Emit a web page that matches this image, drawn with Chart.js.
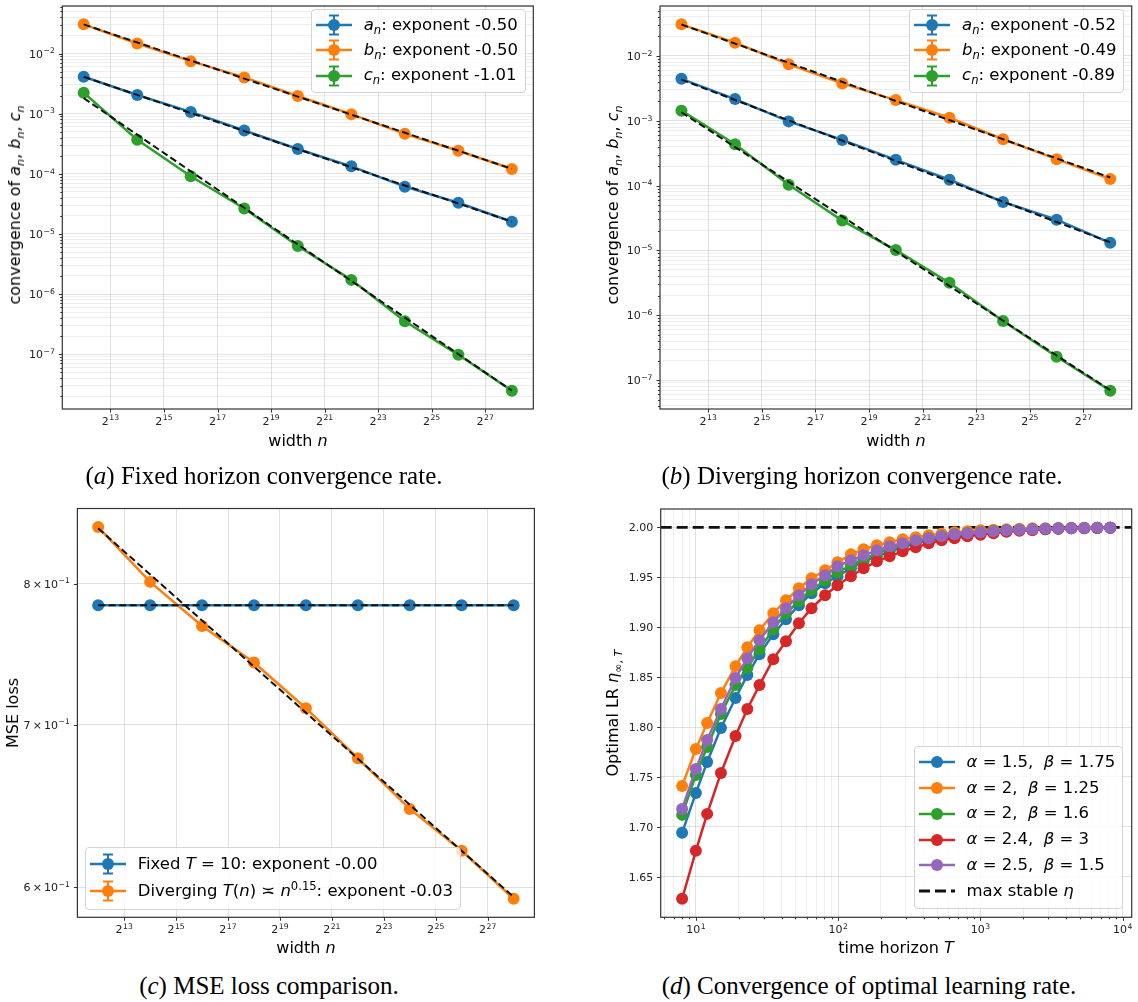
<!DOCTYPE html>
<html>
<head>
<meta charset="utf-8">
<script src="https://cdn.jsdelivr.net/npm/chart.js@4.4.1/dist/chart.umd.min.js"></script>
<style>
  body{margin:0;background:#fff;font-family:"DejaVu Sans",sans-serif;}
  #fig{position:relative;width:1138px;height:1002px;overflow:hidden;background:#fff;}
  canvas{position:absolute;}
  .lbl{position:absolute;white-space:nowrap;font-size:16px;line-height:1;color:#000;}
  .xlbl{transform:translate(-50%,-50%);}
  .ylbl{transform:translate(-50%,-50%) rotate(-90deg);}
  .cap{position:absolute;white-space:nowrap;transform:translate(-50%,-50%);line-height:1;
       font-family:"Liberation Serif","Times New Roman",serif;font-size:25px;color:#000;}
  .leg{position:absolute;border:1px solid #d4d4d4;border-radius:4px;background:rgba(255,255,255,0.8);
       font-size:16.5px;line-height:1;padding:2px 7px 4px 2px;box-sizing:border-box;}
  .leg .row{display:flex;align-items:center;}
  .leg svg{flex:none;}
  .leg .txt{margin-left:10px;white-space:nowrap;}
  sub,sup{font-size:70%;line-height:0;}
</style>
</head>
<body>
<div id="fig">
  <canvas id="cA"></canvas>
  <canvas id="cB"></canvas>
  <canvas id="cC"></canvas>
  <canvas id="cD"></canvas>

  <div class="lbl ylbl" style="left:14.5px;top:205px">convergence of <i>a<sub>n</sub></i>, <i>b<sub>n</sub></i>, <i>c<sub>n</sub></i></div>
  <div class="lbl xlbl" style="left:298px;top:441px">width <i>n</i></div>
  <div class="lbl ylbl" style="left:613px;top:205px">convergence of <i>a<sub>n</sub></i>, <i>b<sub>n</sub></i>, <i>c<sub>n</sub></i></div>
  <div class="lbl xlbl" style="left:896px;top:441px">width <i>n</i></div>
  <div class="lbl ylbl" style="left:13px;top:713px">MSE loss</div>
  <div class="lbl xlbl" style="left:306px;top:948px">width <i>n</i></div>
  <div class="lbl ylbl" style="left:613px;top:713px">Optimal LR <i>η</i><sub>∞, <i>T</i></sub></div>
  <div class="lbl xlbl" style="left:896px;top:948px">time horizon <i>T</i></div>

  <div class="cap" style="left:264px;top:475px">(<i>a</i>) Fixed horizon convergence rate.</div>
  <div class="cap" style="left:862px;top:475px">(<i>b</i>) Diverging horizon convergence rate.</div>
  <div class="cap" style="left:269px;top:985px">(<i>c</i>) MSE loss comparison.</div>
  <div class="cap" style="left:869px;top:985px">(<i>d</i>) Convergence of optimal learning rate.</div>
</div>

<script>
// ---- data ----
const widthExp = [12, 14, 16, 18, 20, 22, 24, 26, 28];      // n = 2^k
const widthTicks = [13, 15, 17, 19, 21, 23, 25, 27];
const fitExp = [12, 28];

// (a) fixed horizon
const fixA = [4.11e-3, 2.04e-3, 1.07e-3, 5.25e-4, 2.58e-4, 1.33e-4, 6.10e-5, 3.29e-5, 1.59e-5];
const fixB = [3.06e-2, 1.466e-2, 7.46e-3, 4.01e-3, 1.97e-3, 9.8e-4, 4.61e-4, 2.41e-4, 1.20e-4];
const fixC = [2.23e-3, 3.67e-4, 9.1e-5, 2.65e-5, 6.3e-6, 1.72e-6, 3.52e-7, 9.75e-8, 2.47e-8];
const fixFitA = [4.1e-3, 1.6e-5];
const fixFitB = [3.05e-2, 1.21e-4];
const fixFitC = [1.81e-3, 2.47e-8];
const fixExps = ['-0.50', '-0.50', '-1.01'];

// (b) diverging horizon
const divA = [4.43e-3, 2.16e-3, 9.77e-4, 5.06e-4, 2.49e-4, 1.23e-4, 5.57e-5, 2.98e-5, 1.31e-5];
const divB = [3.07e-2, 1.60e-2, 7.44e-3, 3.76e-3, 2.08e-3, 1.11e-3, 5.18e-4, 2.55e-4, 1.26e-4];
const divC = [1.43e-3, 4.33e-4, 1.03e-4, 2.88e-5, 1.01e-5, 3.17e-6, 8.16e-7, 2.28e-7, 6.85e-8];
const divFitA = [4.3e-3, 1.33e-5];
const divFitB = [3.05e-2, 1.33e-4];
const divFitC = [1.35e-3, 6.97e-8];
const divExps = ['-0.52', '-0.49', '-0.89'];
const convDecades = [-8, -7, -6, -5, -4, -3, -2, -1];

// (c) MSE loss
const mseFixed = [0.7838, 0.7838, 0.7838, 0.7838, 0.7838, 0.7838, 0.7838, 0.7838, 0.7838];
const mseDiv = [0.8440, 0.8013, 0.7685, 0.7423, 0.7109, 0.6780, 0.6462, 0.6211, 0.5935];
const mseFitFixed = [0.7838, 0.7838];
const mseFitDiv = [0.843, 0.5945];
const mseTicks = [0.6, 0.7, 0.8];

// (d) optimal learning rate vs horizon
const horizonT = [8, 10, 12, 15, 19, 23, 28, 35, 43, 53, 65, 81, 99, 123, 151, 187, 230, 284, 351, 433,
                  534, 658, 812, 1002, 1236, 1525, 1881, 2321, 2864, 3533, 4359, 5377, 6634, 8192];
const lrA15B175 = [1.694, 1.734, 1.765, 1.799, 1.829, 1.852, 1.873, 1.893, 1.908, 1.922, 1.934, 1.944, 1.951, 1.959, 1.966, 1.971, 1.976,
                   1.980, 1.984, 1.987, 1.989, 1.991, 1.993, 1.994, 1.995, 1.996, 1.997, 1.9975, 1.998, 1.9985, 1.999, 1.999, 1.9993, 1.9995];
const lrA2B125 = [1.741, 1.778, 1.804, 1.834, 1.861, 1.880, 1.897, 1.914, 1.927, 1.939, 1.949, 1.957, 1.965, 1.973, 1.978, 1.982, 1.985,
                  1.988, 1.990, 1.992, 1.9935, 1.995, 1.996, 1.997, 1.9975, 1.998, 1.9985, 1.999, 1.999, 1.9993, 1.9995, 1.9996, 1.9997, 1.9998];
const lrA2B16 = [1.712, 1.752, 1.780, 1.813, 1.842, 1.859, 1.878, 1.898, 1.914, 1.926, 1.937, 1.947, 1.955, 1.962, 1.968, 1.974, 1.979,
                 1.983, 1.986, 1.989, 1.991, 1.993, 1.994, 1.995, 1.996, 1.997, 1.9975, 1.998, 1.9985, 1.999, 1.999, 1.9993, 1.9995, 1.9996];
const lrA24B3 = [1.628, 1.676, 1.713, 1.754, 1.791, 1.818, 1.842, 1.868, 1.886, 1.904, 1.919, 1.932, 1.942, 1.951, 1.959, 1.966, 1.971,
                 1.976, 1.980, 1.984, 1.987, 1.989, 1.991, 1.9925, 1.994, 1.9955, 1.9965, 1.997, 1.998, 1.9985, 1.999, 1.999, 1.9993, 1.9995];
const lrA25B15 = [1.718, 1.758, 1.787, 1.818, 1.849, 1.869, 1.887, 1.905, 1.919, 1.932, 1.943, 1.952, 1.961, 1.967, 1.972, 1.977, 1.981,
                  1.984, 1.987, 1.989, 1.991, 1.993, 1.994, 1.995, 1.996, 1.997, 1.9975, 1.998, 1.9985, 1.999, 1.999, 1.9993, 1.9995, 1.9996];
const lrLabels = [['1.5', '1.75'], ['2', '1.25'], ['2', '1.6'], ['2.4', '3'], ['2.5', '1.5']];
const horizonDecades = [0, 1, 2, 3, 4];
const lrTicks = [1.65, 1.70, 1.75, 1.80, 1.85, 1.90, 1.95, 2.00];
const maxStableEta = 2;

// tab10
const C_BLUE = '#1f77b4', C_ORANGE = '#ff7f0e', C_GREEN = '#2ca02c', C_RED = '#d62728', C_PURPLE = '#9467bd';
const GRID_MAJ = 'rgba(176,176,176,0.38)', GRID_MIN = 'rgba(176,176,176,0.22)';
const F_BASE = '11px "DejaVu Sans"', F_EXP = '7.7px "DejaVu Sans"';

// ---- helpers ----
function logLimits(arrs){
  const all = [].concat(...arrs);
  const lo = Math.log10(Math.min(...all)), hi = Math.log10(Math.max(...all));
  const m = (hi - lo) * 0.05;
  return { min: Math.pow(10, lo - m), max: Math.pow(10, hi + m) };
}
function linLimits(arrs){
  const all = [].concat(...arrs);
  const lo = Math.min(...all), hi = Math.max(...all), m = (hi - lo) * 0.05;
  return { min: lo - m, max: hi + m };
}
function logTicks(lim, decades){
  const out = [];
  decades.forEach(e => {
    for(let m = 1; m < 10; m++){
      const v = m * Math.pow(10, e);
      if(v >= lim.min && v <= lim.max) out.push({ value: v, major: m === 1 });
    }
  });
  return out;
}

// tick label text, as [base, exponent] pieces (mathtext-like)
const minus = s => String(s).replace('-', '\u2212');
const fmtPow2 = v => [String(v === Math.round(v) ? 2 : v), String(v)];
const fmtPow10 = (v, t) => t.major ? ['10', minus(Math.round(Math.log10(v)))] : null;
const fmtMant = v => [Math.round(v * 10) + '\u2009\u00d7\u200910', minus(-1)];
const fmtLR = v => [v.toFixed(2)];
const tickFmt = {};   // canvas id -> {x, y}

function richWidth(ctx, p){
  ctx.font = F_BASE; let w = ctx.measureText(p[0]).width;
  if(p[1] != null){ ctx.font = F_EXP; w += ctx.measureText(p[1]).width + 0.5; }
  return w;
}
function drawRich(ctx, p, x, base){
  ctx.font = F_BASE; ctx.fillText(p[0], x, base);
  if(p[1] != null){
    const w = ctx.measureText(p[0]).width + 0.5;
    ctx.font = F_EXP; ctx.fillText(p[1], x + w, base - 4.2);
  }
}

function axis(type, lim, ticks){
  return {
    type, min: lim.min, max: lim.max, bounds: 'data',
    afterBuildTicks(s){ s.ticks = ticks.map(t => ({ value: t.value, major: t.major })); },
    ticks: { display: false, autoSkip: false },
    grid: { drawTicks: false, lineWidth: 1, color: c => (c.tick && c.tick.major) ? GRID_MAJ : GRID_MIN },
    border: { display: false }
  };
}

function series(xs, ys, color){
  return { data: xs.map((x, i) => ({ x, y: ys[i] })), borderColor: color, backgroundColor: color,
           pointBackgroundColor: color, borderWidth: 2.5, pointRadius: 6, pointBorderWidth: 0,
           pointHoverRadius: 6, tension: 0, fill: false };
}
function fitLine(xs, ys){
  return { data: xs.map((x, i) => ({ x, y: ys[i] })), borderColor: '#111', borderWidth: 2,
           borderDash: [7, 3.5], pointRadius: 0, tension: 0, fill: false };
}

// frame (all four spines), tick marks and tick labels
const frameTicks = {
  id: 'frameTicks',
  afterDraw(chart){
    const { ctx, chartArea: a, scales } = chart;
    const fmt = tickFmt[chart.canvas.id];
    ctx.save();
    ctx.strokeStyle = '#333'; ctx.fillStyle = '#222'; ctx.lineWidth = 1;
    ctx.textBaseline = 'alphabetic'; ctx.textAlign = 'left';
    ['x', 'y'].forEach(k => {
      const s = scales[k];
      s.ticks.forEach(t => {
        const raw = s.getPixelForValue(t.value);
        const p = Math.round(raw) + 0.5, len = t.major ? 3.5 : 2;
        ctx.beginPath();
        if(k === 'x'){ ctx.moveTo(p, a.bottom); ctx.lineTo(p, a.bottom + len); }
        else { ctx.moveTo(a.left, p); ctx.lineTo(a.left - len, p); }
        ctx.stroke();
        const lab = fmt[k](t.value, t);
        if(!lab) return;
        const w = richWidth(ctx, lab);
        if(k === 'x') drawRich(ctx, lab, raw - w / 2, a.bottom + 15.5);
        else drawRich(ctx, lab, a.left - 7.5 - w, raw + 4);
      });
    });
    ctx.lineWidth = 1.2;
    ctx.strokeRect(a.left, a.top, a.right - a.left, a.bottom - a.top);
    ctx.restore();
  }
};
// horizontal reference line behind the data
const hline = {
  id: 'hline',
  beforeDatasetsDraw(chart, args, opts){
    if(!opts || opts.value == null) return;
    const { ctx, chartArea: a } = chart;
    const y = chart.scales.y.getPixelForValue(opts.value);
    ctx.save();
    ctx.beginPath(); ctx.rect(a.left, a.top, a.right - a.left, a.bottom - a.top); ctx.clip();
    ctx.strokeStyle = '#111'; ctx.lineWidth = 2.8; ctx.setLineDash([11, 5]);
    ctx.beginPath(); ctx.moveTo(a.left, y); ctx.lineTo(a.right, y); ctx.stroke();
    ctx.restore();
  }
};

function panel(id, box, area, datasets, xs, ys, fmts, ref){
  const cv = document.getElementById(id);
  cv.width = box.w; cv.height = box.h;
  cv.style.left = box.x + 'px'; cv.style.top = box.y + 'px';
  tickFmt[id] = fmts;
  const yW = area.l - box.x, xH = box.y + box.h - area.b;
  const zero = s => { s.paddingLeft = 0; s.paddingRight = 0; s.paddingTop = 0; s.paddingBottom = 0; };
  xs.position = 'bottom'; xs.afterFit = s => { s.height = xH; zero(s); };
  ys.position = 'left';   ys.afterFit = s => { s.width = yW; zero(s); };
  // later datasets on top, like matplotlib
  datasets.forEach((d, i) => { d.order = datasets.length - i; });
  return new Chart(cv.getContext('2d'), {
    type: 'line',
    data: { datasets },
    options: {
      responsive: false, animation: false, events: [],
      layout: { padding: { left: 0, top: area.t - box.y, right: box.x + box.w - area.r, bottom: 0 } },
      plugins: { legend: { display: false }, tooltip: { enabled: false }, hline: ref || false },
      scales: { x: xs, y: ys }
    },
    plugins: [frameTicks, hline]
  });
}

function legend(pos, rows, rowH){
  const box = document.createElement('div');
  box.className = 'leg';
  Object.keys(pos).forEach(k => { box.style[k] = pos[k] + 'px'; });
  rows.forEach(r => {
    const row = document.createElement('div');
    row.className = 'row';
    row.style.height = rowH + 'px';
    let s = '<svg width="40" height="24" viewBox="0 0 40 24">';
    if(r.dash){
      s += `<line x1="2" y1="12" x2="38" y2="12" stroke="${r.color}" stroke-width="2.8" stroke-dasharray="11 5"/>`;
    } else {
      s += `<line x1="2" y1="12" x2="38" y2="12" stroke="${r.color}" stroke-width="2.5"/>`;
      if(r.err){
        s += `<line x1="20" y1="2.5" x2="20" y2="21.5" stroke="${r.color}" stroke-width="2"/>` +
             `<line x1="15" y1="2.5" x2="25" y2="2.5" stroke="${r.color}" stroke-width="2"/>` +
             `<line x1="15" y1="21.5" x2="25" y2="21.5" stroke="${r.color}" stroke-width="2"/>`;
      }
      s += `<circle cx="20" cy="12" r="6" fill="${r.color}"/>`;
    }
    s += '</svg>';
    row.innerHTML = s + '<span class="txt">' + r.html + '</span>';
    box.appendChild(row);
  });
  document.getElementById('fig').appendChild(box);
}

// ---- panels ----
const wLim = linLimits([widthExp]);
const wTicks = widthTicks.map(v => ({ value: v, major: true }));
const pow2Label = v => ['2', String(v)];

// (a)
const limA = logLimits([fixA, fixB, fixC, fixFitA, fixFitB, fixFitC]);
panel('cA', { x: 0, y: 0, w: 569, h: 462 }, { l: 62.3, t: 1, r: 533.3, b: 409 },
  [series(widthExp, fixA, C_BLUE), series(widthExp, fixB, C_ORANGE), series(widthExp, fixC, C_GREEN),
   fitLine(fitExp, fixFitA), fitLine(fitExp, fixFitB), fitLine(fitExp, fixFitC)],
  axis('linear', wLim, wTicks),
  axis('logarithmic', limA, logTicks(limA, convDecades)),
  { x: pow2Label, y: fmtPow10 });

// (b)
const limB = logLimits([divA, divB, divC, divFitA, divFitB, divFitC]);
panel('cB', { x: 570, y: 0, w: 568, h: 462 }, { l: 660, t: 1, r: 1131.7, b: 409 },
  [series(widthExp, divA, C_BLUE), series(widthExp, divB, C_ORANGE), series(widthExp, divC, C_GREEN),
   fitLine(fitExp, divFitA), fitLine(fitExp, divFitB), fitLine(fitExp, divFitC)],
  axis('linear', wLim, wTicks),
  axis('logarithmic', limB, logTicks(limB, convDecades)),
  { x: pow2Label, y: fmtPow10 });

// (c)
const limC = logLimits([mseFixed, mseDiv, mseFitFixed, mseFitDiv]);
panel('cC', { x: 0, y: 495, w: 569, h: 470 }, { l: 77.4, t: 508.5, r: 534.4, b: 917.3 },
  [series(widthExp, mseFixed, C_BLUE), series(widthExp, mseDiv, C_ORANGE),
   fitLine(fitExp, mseFitFixed), fitLine(fitExp, mseFitDiv)],
  axis('linear', wLim, wTicks),
  axis('logarithmic', limC, mseTicks.map(v => ({ value: v, major: true }))),
  { x: pow2Label, y: fmtMant });

// (d)
const tLim = logLimits([horizonT]);
const lrSeries = [lrA15B175, lrA2B125, lrA2B16, lrA24B3, lrA25B15];
const lrColors = [C_BLUE, C_ORANGE, C_GREEN, C_RED, C_PURPLE];
const lrLim = linLimits(lrSeries);
panel('cD', { x: 570, y: 495, w: 568, h: 470 }, { l: 660.7, t: 509, r: 1131.7, b: 917.3 },
  lrSeries.map((s, i) => series(horizonT, s, lrColors[i])),
  axis('logarithmic', tLim, logTicks(tLim, horizonDecades)),
  axis('linear', lrLim, lrTicks.map(v => ({ value: v, major: true }))),
  { x: fmtPow10, y: fmtLR },
  { value: maxStableEta });

// ---- legends ----
const abc = ['a', 'b', 'c'], abcColors = [C_BLUE, C_ORANGE, C_GREEN];
legend({ right: 612, top: 9.3 }, abc.map((l, i) => ({ color: abcColors[i], err: true,
  html: `<i>${l}<sub>n</sub></i>: exponent ${fixExps[i]}` })), 25.3);
legend({ right: 13.6, top: 9.3 }, abc.map((l, i) => ({ color: abcColors[i], err: true,
  html: `<i>${l}<sub>n</sub></i>: exponent ${divExps[i]}` })), 25.3);
legend({ left: 84.7, bottom: 92 }, [
  { color: C_BLUE, err: true, html: 'Fixed <i>T</i> = 10: exponent -0.00' },
  { color: C_ORANGE, err: true, html: 'Diverging <i>T</i>(<i>n</i>) ≍ <i>n</i><sup>0.15</sup>: exponent -0.03' }
], 27.5);
legend({ right: 14.7, bottom: 92.7 },
  lrLabels.map((p, i) => ({ color: lrColors[i], html: `<i>α</i> = ${p[0]}, &nbsp;<i>β</i> = ${p[1]}` }))
    .concat([{ color: '#111', dash: true, html: 'max stable <i>η</i>' }]), 25.9);
</script>
</body>
</html>
